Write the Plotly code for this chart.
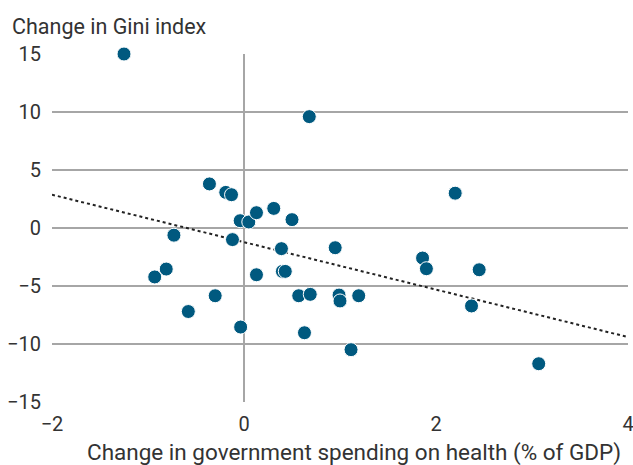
import numpy as np
import plotly.graph_objects as go

# Change in government spending on health (% of GDP)
health_spending_change = [
    -1.25, 0.68, -0.36, -0.19, -0.13, -0.04, 0.05, 0.13, 0.31, 0.50,
    -0.73, -0.12, 0.39, -0.93, -0.81, 0.13, 0.40, 0.43, -0.30, -0.58,
    -0.035, 0.57, 0.69, 0.63, 0.95, 1.86, 1.90, 2.45, 0.99, 1.00,
    1.195, 1.115, 2.37, 3.07, 2.20,
]
# Change in Gini index
gini_change = [
    15.0, 9.6, 3.8, 3.07, 2.87, 0.63, 0.52, 1.32, 1.69, 0.72,
    -0.62, -1.0, -1.78, -4.22, -3.54, -4.03, -3.74, -3.74, -5.84, -7.2,
    -8.54, -5.84, -5.72, -9.03, -1.70, -2.59, -3.51, -3.6, -5.78, -6.29,
    -5.84, -10.49, -6.72, -11.7, 3.0,
]
# Fitted trend line (endpoints at x = -2 and x = 4)
trend_x = [-2, 4]
trend_y = [2.87, -9.4]

x_ticks = [-2, 0, 2, 4]
y_ticks = [-15, -10, -5, 0, 5, 10, 15]

FONT = "Roboto"
TEXT = "#333333"
GRID = "#a6a6a6"
DOT = "#00597f"

W, H = 633, 465
L, T = 52, 54
PW, PH = 576, 348
R = W - L - PW
B = H - T - PH

fig = go.Figure()
fig.add_trace(go.Scatter(
    x=trend_x, y=trend_y, mode="lines",
    line=dict(color="#222222", width=2, dash="dot"),
    hoverinfo="skip", showlegend=False, cliponaxis=False,
))
fig.add_trace(go.Scatter(
    x=health_spending_change, y=gini_change, mode="markers",
    marker=dict(size=14, color=DOT, line=dict(color="white", width=1)),
    showlegend=False, cliponaxis=False,
))

fig.update_layout(
    width=W, height=H,
    margin=dict(l=L, r=R, t=T, b=B, autoexpand=False),
    paper_bgcolor="white", plot_bgcolor="white",
    font=dict(family=FONT, size=20, color=TEXT),
    xaxis=dict(
        range=[-2, 4], tickvals=x_ticks, showgrid=False, automargin=False,
        zeroline=True, zerolinecolor=GRID, zerolinewidth=1.5,
        showline=False, ticks="", ticklen=0, ticklabelstandoff=8,
        ticklabeloverflow="allow",
        tickfont=dict(size=20, color=TEXT),
    ),
    yaxis=dict(
        range=[-15, 15], tickvals=y_ticks, showgrid=True, automargin=False,
        gridcolor=GRID, gridwidth=1.5,
        zeroline=True, zerolinecolor=GRID, zerolinewidth=1.5,
        showline=False, ticks="", ticklabelstandoff=10,
        tickfont=dict(size=20, color=TEXT),
    ),
    annotations=[
        dict(
            text="Change in Gini index", xref="paper", yref="paper",
            x=-(L - 10) / PW, y=1, xanchor="left", yanchor="middle", yshift=T - 26,
            showarrow=False, font=dict(size=21.5, color=TEXT),
        ),
        dict(
            text="Change in government spending on health (% of GDP)",
            xref="paper", yref="paper",
            x=(353.5 - L) / PW, y=0, xanchor="center", yanchor="middle",
            yshift=-(452 - (T + PH)),
            showarrow=False, font=dict(size=22.5, color=TEXT),
        ),
    ],
)

fig.write_html(
    "out.html",
    config={"displayModeBar": False},
    post_script="document.body.style.margin='0';document.body.style.overflow='hidden';",
)
